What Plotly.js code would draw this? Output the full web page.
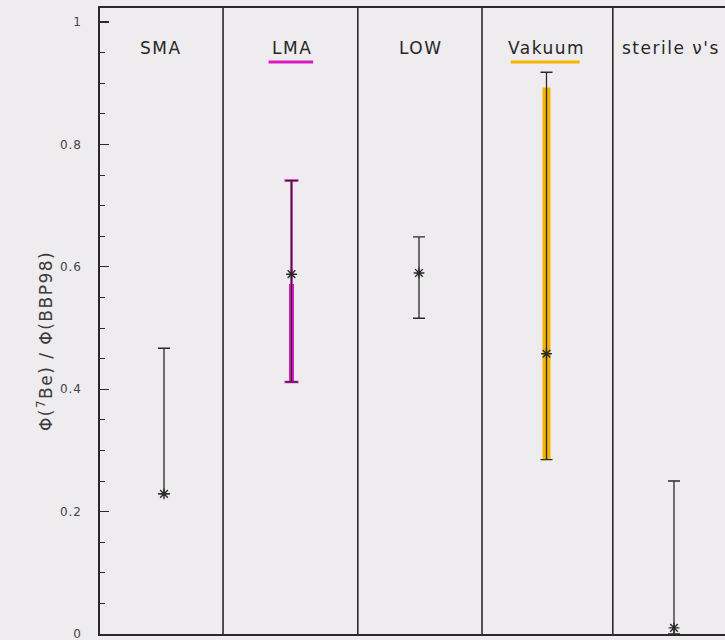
<!DOCTYPE html>
<html>
<head>
<meta charset="utf-8">
<script src="https://cdn.plot.ly/plotly-3.0.1.min.js"></script>
<style>
html,body{margin:0;padding:0;background:#eeecee;}
.annotation-text{letter-spacing:1.5px;}
.ytick text{letter-spacing:1px;}
</style>
</head>
<body>
<div id="chart" style="width:725px;height:640px;"></div>
<script>
// ---- data ----
const categories = ['SMA', 'LMA', 'LOW', 'Vakuum', 'sterile \u03bd\'s'];
const central = [0.229, 0.588, 0.590, 0.458, 0.010];
const upper   = [0.467, 0.741, 0.649, 0.918, 0.250];
const lower   = [0.229, 0.412, 0.516, 0.285, 0.000];
// highlighted (hand-marked) ranges
const lmaMarkedRange = [0.412, 0.741];
const lmaThickRange  = [0.412, 0.572];
const vakuumMarkedRange = [0.285, 0.893];
const yTickVals = [0, 0.2, 0.4, 0.6, 0.8, 1];
const yTickText = ['0', '0.2', '0.4', '0.6', '0.8', '1'];
const separators = [0.463, 1.52, 2.494, 3.52];
const labelOffset = [-0.02, 0.0, 0.015, 0.0, -0.025];

const idx = categories.map((_, i) => i);
const errPlus = upper.map((u, i) => u - central[i]);
const errMinus = lower.map((l, i) => central[i] - l);
const iLMA = categories.indexOf('LMA');
const iVak = categories.indexOf('Vakuum');
const magenta = '#dc18c0';
const orange = '#f6b400';
const ink = '#2a2a2a';
const fontFam = 'DejaVu Sans, Liberation Sans, Arial, sans-serif';

const traces = [
  // orange marker over Vakuum
  {x: [iVak, iVak], y: vakuumMarkedRange, mode: 'lines', line: {color: orange, width: 8}, hoverinfo: 'skip', showlegend: false},
  // magenta over LMA (full range with caps)
  {x: [iLMA], y: [(lmaMarkedRange[0] + lmaMarkedRange[1]) / 2], mode: 'markers', marker: {size: 1, opacity: 0},
   error_y: {type: 'data', symmetric: true, array: [(lmaMarkedRange[1] - lmaMarkedRange[0]) / 2], color: magenta, thickness: 2.5, width: 7},
   hoverinfo: 'skip', showlegend: false},
  {x: [iLMA, iLMA], y: lmaThickRange, mode: 'lines', line: {color: magenta, width: 5}, hoverinfo: 'skip', showlegend: false},
  // main data
  {x: idx, y: central, mode: 'markers', text: categories,
   marker: {symbol: 'asterisk-open', size: 9, color: ink, line: {color: ink, width: 1.4}},
   error_y: {type: 'data', symmetric: false, array: errPlus, arrayminus: errMinus, color: ink, thickness: 1.3, width: 6},
   showlegend: false}
];

const shapes = separators.map(s => ({type: 'line', xref: 'x', yref: 'paper', x0: s, x1: s, y0: 0, y1: 1, line: {color: ink, width: 1.6}}));
const ulY = (634 - 62) / 626;
shapes.push({type: 'line', xref: 'x', yref: 'paper', x0: iLMA - 0.18, x1: iLMA + 0.17, y0: ulY, y1: ulY, line: {color: magenta, width: 3}});
shapes.push({type: 'line', xref: 'x', yref: 'paper', x0: iVak - 0.28, x1: iVak + 0.26, y0: ulY, y1: ulY, line: {color: orange, width: 3}});

const annotations = categories.map((c, i) => ({
  x: i + labelOffset[i], y: (634 - 48) / 626, xref: 'x', yref: 'paper', text: c, showarrow: false,
  font: {family: fontFam, size: 17, color: '#262626'}, xanchor: 'center', yanchor: 'middle'
}));
annotations.push({
  xref: 'paper', yref: 'paper', x: -0.088, y: 0.468, textangle: -90, showarrow: false,
  text: '\u03a6(<sup>7</sup>Be) / \u03a6(BBP98)',
  font: {family: fontFam, size: 17, color: '#3a3a3a'}, xanchor: 'center', yanchor: 'middle'
});

const layout = {
  width: 725, height: 640,
  margin: {l: 100, r: 0, t: 8, b: 6},
  paper_bgcolor: '#eeecee', plot_bgcolor: '#eeecee',
  showlegend: false,
  xaxis: {range: [-0.502, 4.4], showline: true, mirror: true, linecolor: ink, linewidth: 1.6,
          showgrid: false, zeroline: false, showticklabels: false, ticks: ''},
  yaxis: {range: [0, 1.023], showline: true, linecolor: ink, linewidth: 1.6,
          ticks: 'inside', ticklen: 9, tickcolor: ink, tickwidth: 1.2,
          tickvals: yTickVals, ticktext: yTickText, ticklabeloverflow: 'allow',
          minor: {dtick: 0.05, ticks: 'inside', ticklen: 5, tickcolor: ink, tickwidth: 1},
          showgrid: false, zeroline: false, ticklabelstandoff: 14,
          tickfont: {family: fontFam, size: 12, color: '#444'}},
  shapes: shapes,
  annotations: annotations
};

Plotly.newPlot('chart', traces, layout, {displayModeBar: false, staticPlot: true});
</script>
</body>
</html>
